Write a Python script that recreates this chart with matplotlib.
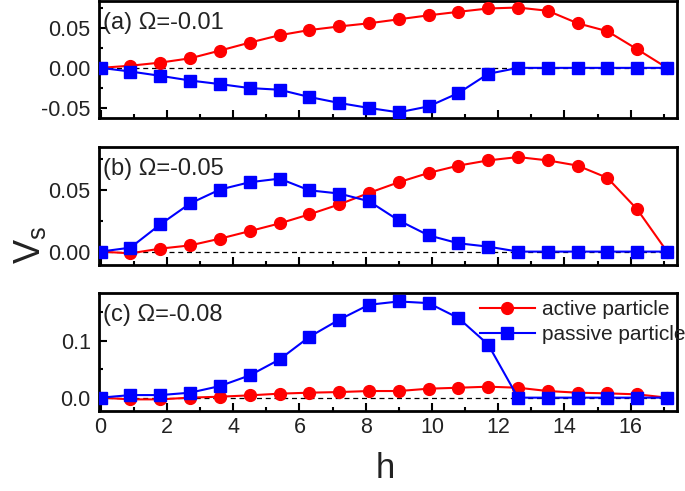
import matplotlib
matplotlib.use("Agg")
import matplotlib.pyplot as plt
from matplotlib.ticker import MultipleLocator, FormatStrFormatter

plt.rcParams['font.family'] = ['Liberation Sans', 'DejaVu Sans']

h = [0.0, 0.9, 1.8, 2.7, 3.6, 4.5, 5.4, 6.3, 7.2, 8.1,
     9.0, 9.9, 10.8, 11.7, 12.6, 13.5, 14.4, 15.3, 16.2, 17.1]

active_a = [0.0, 0.0027, 0.0066, 0.012, 0.0217, 0.0317, 0.041, 0.0475, 0.052, 0.056,
            0.061, 0.066, 0.0704, 0.0746, 0.0758, 0.0717, 0.056, 0.046, 0.0233, 0.0]
passive_a = [0.0, -0.0046, -0.010, -0.0159, -0.0204, -0.0254, -0.0275, -0.0366, -0.0441, -0.0504,
             -0.0559, -0.0484, -0.0317, -0.0075, 0.0, 0.0, 0.0, 0.0, 0.0, 0.0]

active_b = [0.0, -0.0014, 0.0024, 0.005, 0.0104, 0.0165, 0.0227, 0.030, 0.038, 0.0473,
            0.0559, 0.0634, 0.0693, 0.0735, 0.0762, 0.0735, 0.0693, 0.0594, 0.034, 0.0]
passive_b = [0.0, 0.0032, 0.0219, 0.0388, 0.050, 0.0559, 0.0588, 0.0494, 0.0468, 0.0406,
             0.0251, 0.0131, 0.0067, 0.004, 0.0, 0.0, 0.0, 0.0, 0.0, 0.0]

active_c = [0.0, -0.003, -0.003, 0.0, 0.0017, 0.004, 0.007, 0.0087, 0.0098, 0.0116,
            0.0116, 0.0157, 0.0174, 0.0192, 0.0174, 0.0116, 0.0087, 0.0075, 0.0058, 0.0]
passive_c = [0.0, 0.0045, 0.0045, 0.0087, 0.0203, 0.039, 0.0669, 0.1065, 0.1366, 0.1628,
             0.1686, 0.1657, 0.1396, 0.093, 0.0, 0.0, 0.0, 0.0, 0.0, 0.0]

labels = ["(a) \u03a9=-0.01", "(b) \u03a9=-0.05", "(c) \u03a9=-0.08"]
ylims = [(-0.063, 0.084), (-0.0108, 0.0847), (-0.0234, 0.1843)]
ymajor = [0.05, 0.05, 0.1]
yfmt = ["%.2f", "%.2f", "%.1f"]

fig = plt.figure(figsize=(6.85, 4.91), dpi=100)
L, R = 99 / 685, 677 / 685
boxes = [(1, 118), (146.5, 265), (292.5, 411)]
txtcol = '#222222'

data = [(active_a, passive_a), (active_b, passive_b), (active_c, passive_c)]
axes = []
for i, ((top, bot), (act, pas)) in enumerate(zip(boxes, data)):
    ax = fig.add_axes([L, 1 - bot / 491, R - L, (bot - top) / 491])
    axes.append(ax)
    ax.axhline(0, color='black', lw=0.9, ls=(0, (4, 3)), zorder=1)
    ax.plot(h, act, '-o', color='#ff0000', lw=1.5, ms=8.5, label='active particle', zorder=3)
    ax.plot(h, pas, '-s', color='#0000ff', lw=1.5, ms=8, label='passive particle', zorder=4)
    ax.set_xlim(-0.05, 17.4)
    ax.set_ylim(*ylims[i])
    ax.xaxis.set_major_locator(MultipleLocator(2))
    ax.xaxis.set_minor_locator(MultipleLocator(1))
    ax.yaxis.set_major_locator(MultipleLocator(ymajor[i]))
    ax.yaxis.set_minor_locator(MultipleLocator(ymajor[i] / 2))
    ax.yaxis.set_major_formatter(FormatStrFormatter(yfmt[i]))
    ax.tick_params(which='both', direction='in', top=False, right=False,
                   labelsize=15.5, labelcolor=txtcol, width=1.5)
    ax.tick_params(which='major', length=6)
    ax.tick_params(which='minor', length=3)
    ax.tick_params(axis='y', which='major', pad=6)
    ax.tick_params(axis='x', which='major', pad=4)
    for s in ax.spines.values():
        s.set_linewidth(2)
    if i < 2:
        ax.tick_params(labelbottom=False)
    ax.text(0.007, 0.81, labels[i], transform=ax.transAxes, ha='left', va='center',
            fontsize=17, color=txtcol)

axes[2].legend(loc='upper left', bbox_to_anchor=(0.659, 0.935), frameon=False,
               fontsize=15, handlelength=2.64, handletextpad=0.34, labelspacing=0.3,
               borderpad=0.0, borderaxespad=0.0, labelcolor=txtcol)

fig.text(385 / 685, 1 - 469 / 491, 'h', ha='center', va='center', fontsize=25, color=txtcol)
fig.text(30 / 685, 1 - 245 / 491, r'V$_\mathregular{s}$', ha='center', va='center',
         fontsize=26, rotation=90, color=txtcol)

fig.savefig('out.png', dpi=100)
